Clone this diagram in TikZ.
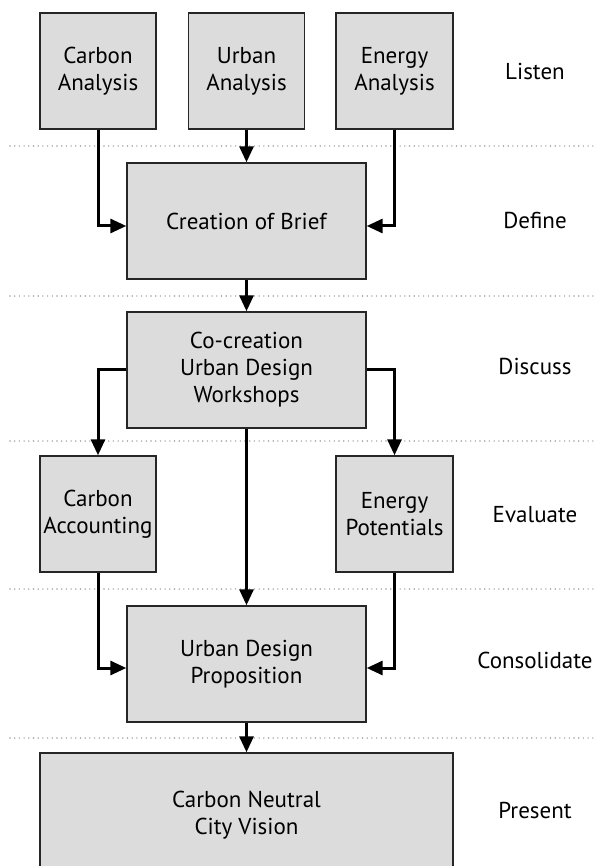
\documentclass[tikz,border=0pt]{standalone}
\usepackage{fontspec}
\setmainfont{PT Sans}
\usetikzlibrary{arrows.meta}
\definecolor{boxfill}{HTML}{DCDCDC}
\definecolor{dotgray}{HTML}{A0A0A0}
\tikzset{
  stage/.style={draw=black!85, line width=1.4pt, fill=boxfill, align=center,
    inner sep=0pt, font=\fontsize{23}{27}\selectfont},
  flow/.style={line width=3pt, -{Triangle[length=16pt,width=14pt]}},
  phase/.style={font=\fontsize{23}{27}\selectfont, inner sep=0pt},
  sep/.style={dotgray, line width=1.6pt, dash pattern=on 0pt off 4.7pt, line cap=round}
}
\begin{document}
\begin{tikzpicture}[x=1pt,y=-1pt]
\useasboundingbox (0,0) rectangle (594,866);
\clip (0,0) rectangle (594,866);
% separators
\foreach \yy/\nm in {146/s1,296/s2,441/s3,589/s4,738/s5}{
  \coordinate (\nm a) at (10,\yy);
  \coordinate (\nm b) at (594,\yy);
  \draw[sep] (\nm a) -- (\nm b);
}
% boxes
\node[stage, minimum width=116pt, minimum height=116pt] (ca) at (98,71) {Carbon\\Analysis};
\node[stage, minimum width=116pt, minimum height=116pt] (ua) at (246.5,71) {Urban\\Analysis};
\node[stage, minimum width=117pt, minimum height=116pt] (ea) at (394.5,71) {Energy\\Analysis};
\node[stage, minimum width=239pt, minimum height=116pt] (brief) at (246.5,221) {Creation of Brief};
\node[stage, minimum width=239pt, minimum height=116pt] (co) at (246.5,370) {Co-creation\\Urban Design\\Workshops};
\node[stage, minimum width=116pt, minimum height=116pt] (cacc) at (98,514) {Carbon\\Accounting};
\node[stage, minimum width=117pt, minimum height=116pt] (epot) at (394.5,514) {Energy\\Potentials};
\node[stage, minimum width=239pt, minimum height=116pt] (udp) at (246.5,664) {Urban Design\\Proposition};
\node[stage, minimum width=413pt, minimum height=124pt] (cn) at (246.5,815) {Carbon Neutral\\City Vision};
% phase labels
\node[phase] (l1) at (535,71) {Listen};
\node[phase] (l2) at (535,220) {Define};
\node[phase] (l3) at (535,366) {Discuss};
\node[phase] (l4) at (535,515) {Evaluate};
\node[phase] (l5) at (535,660) {Consolidate};
\node[phase] (l6) at (535,810) {Present};
% connectors
\draw[flow] (ca.south) |- ([yshift=-5pt]brief.west);
\draw[flow] (ua.south) -- (brief.north);
\draw[flow] (ea.south) |- ([yshift=-5pt]brief.east);
\draw[flow] (brief.south) -- (co.north);
\draw[flow] ([yshift=1pt]co.west) -| (cacc.north);
\draw[flow] ([yshift=1pt]co.east) -| (epot.north);
\draw[flow] (co.south) -- (udp.north);
\draw[flow] (cacc.south) |- ([yshift=-4pt]udp.west);
\draw[flow] (epot.south) |- ([yshift=-4pt]udp.east);
\draw[flow] (udp.south) -- (cn.north);
\end{tikzpicture}
\end{document}
